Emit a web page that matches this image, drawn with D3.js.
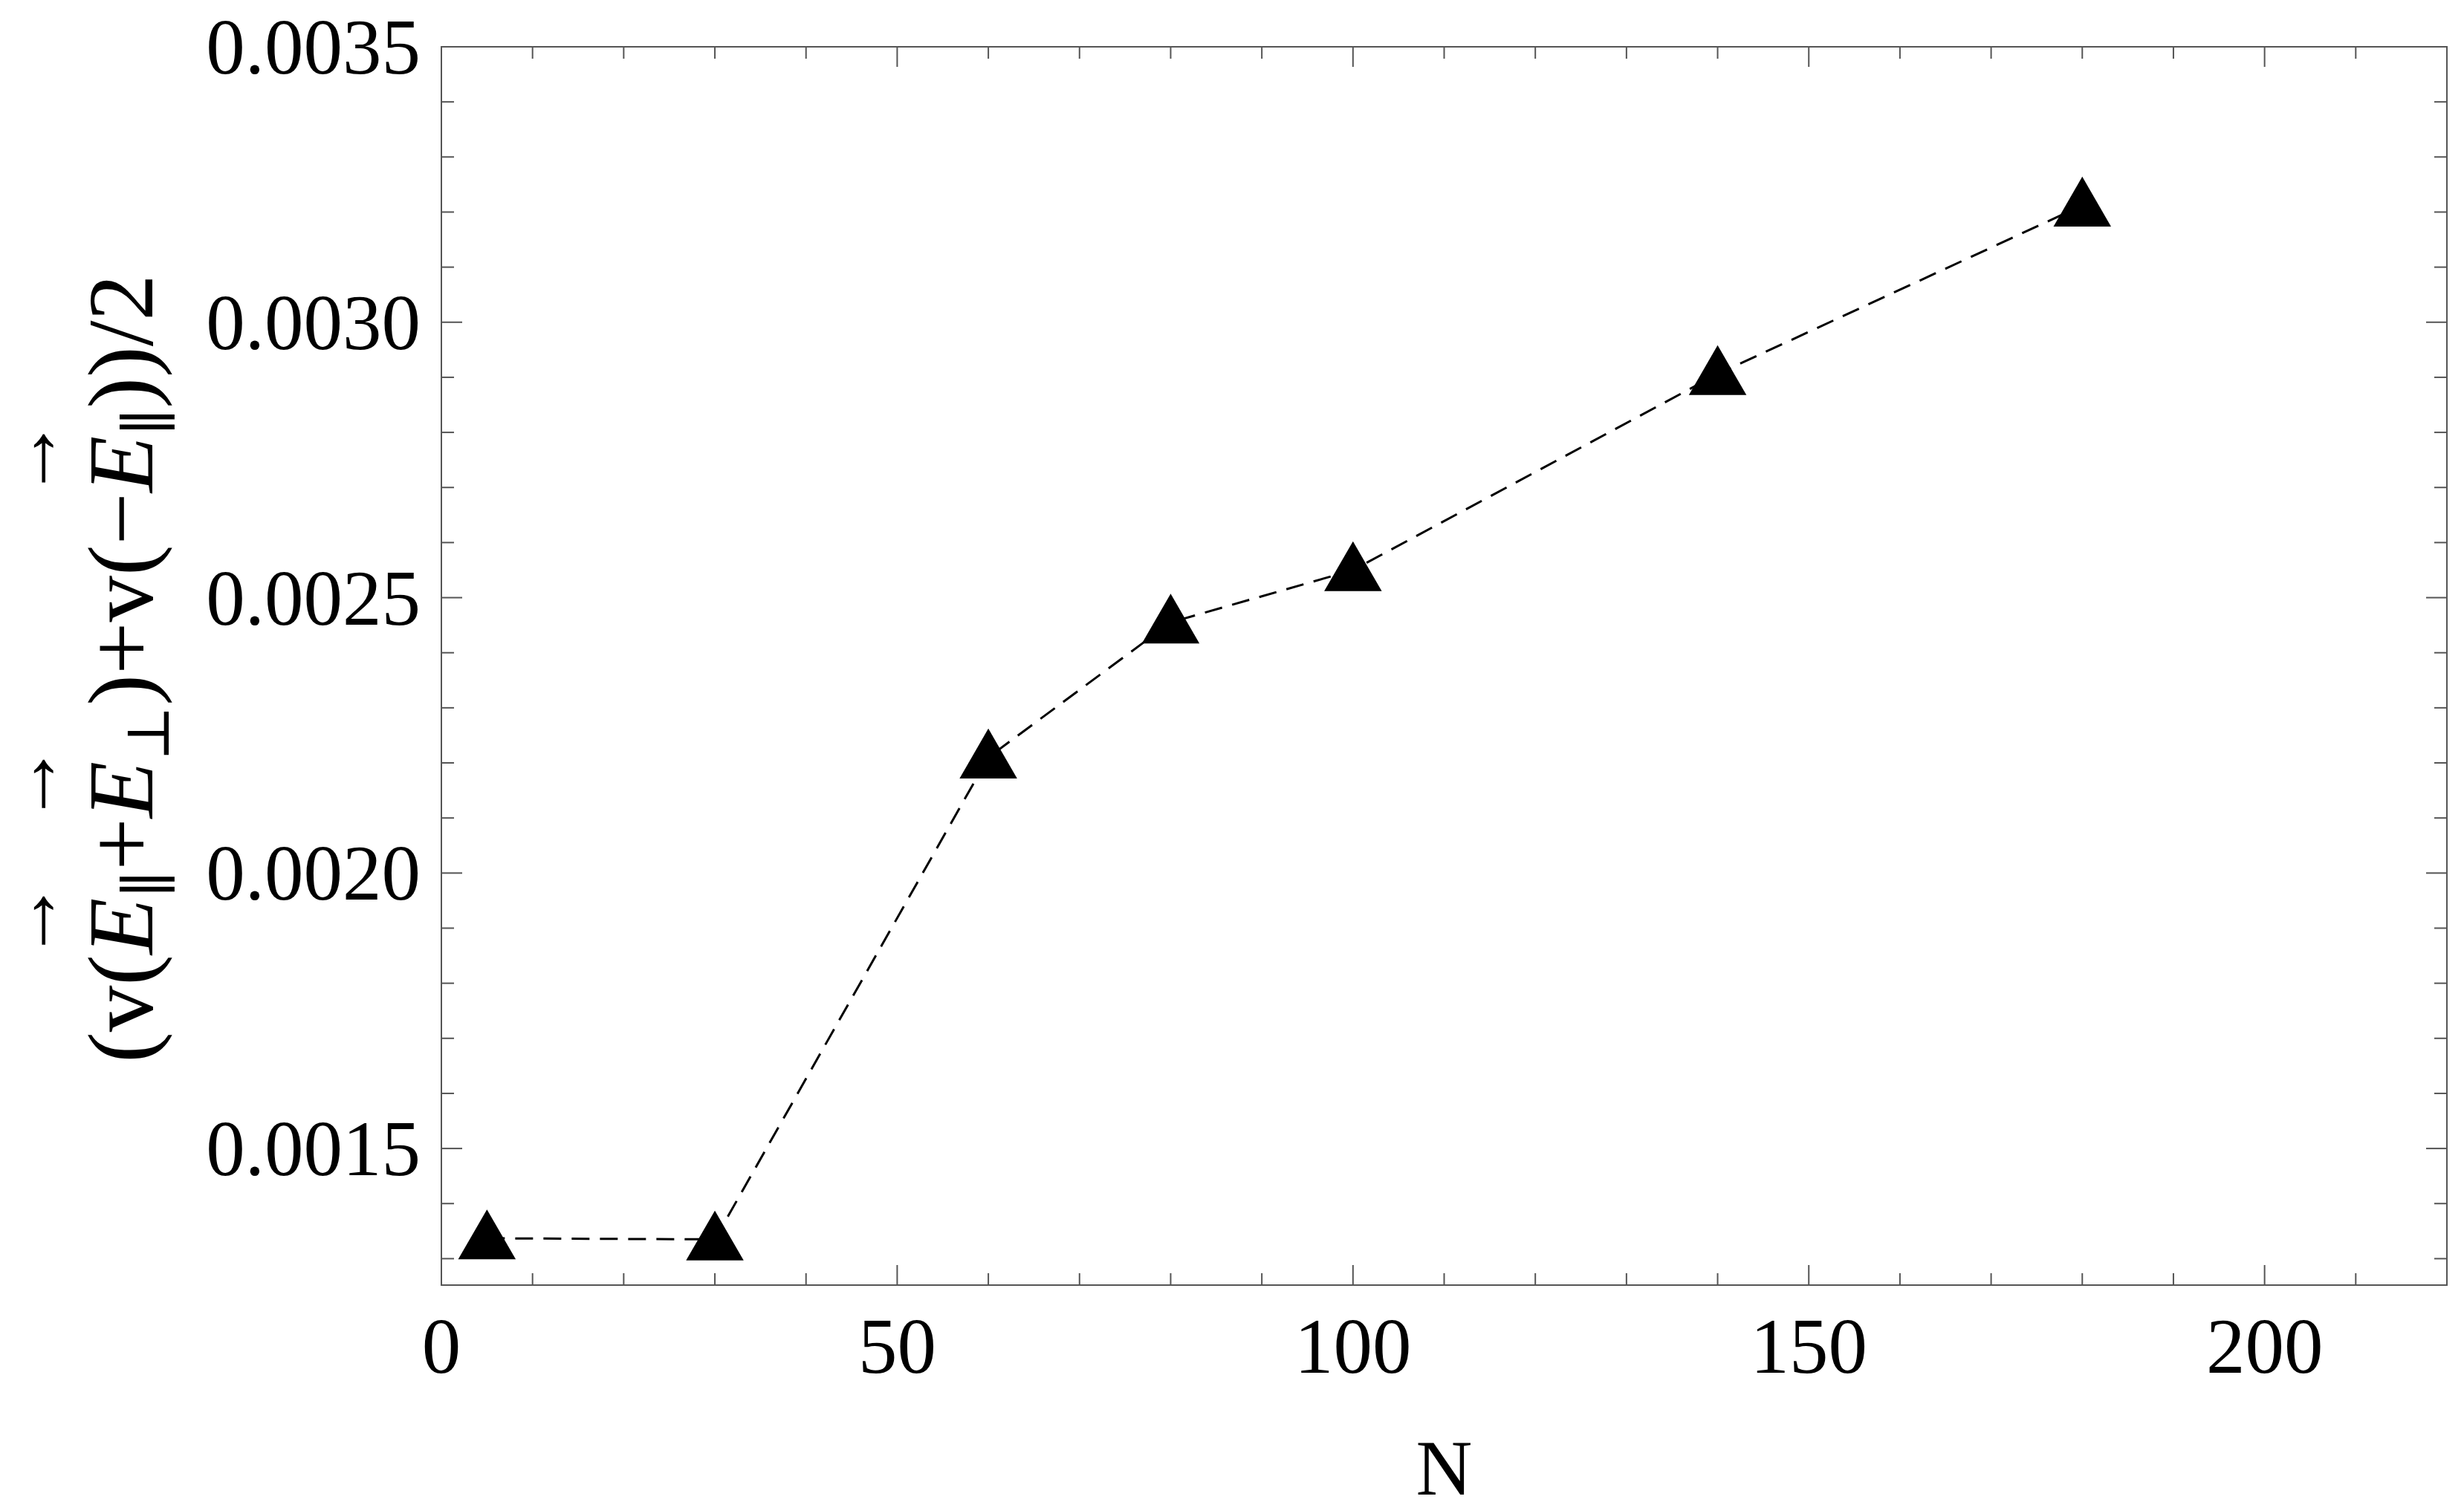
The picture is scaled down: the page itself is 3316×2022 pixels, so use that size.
<!DOCTYPE html>
<html>
<head>
<meta charset="utf-8">
<script src="https://cdn.jsdelivr.net/npm/d3@7"></script>
<style>
  body { margin: 0; background: #fff; }
  text { font-family: "Liberation Serif", "DejaVu Serif", serif; fill: #000; }
</style>
</head>
<body>
<svg id="chart" width="3316" height="2022"></svg>
<script>
// data
var nValues = [5, 30, 60, 80, 100, 140, 180];
var vValues = [0.001337, 0.001335, 0.00221, 0.002455, 0.00255, 0.002906, 0.003212];
var xTicks = [0, 50, 100, 150, 200];
var yTicks = [0.0015, 0.0020, 0.0025, 0.0030, 0.0035];

var svg = d3.select("#chart");
var pLeft = 594, pRight = 3293, pTop = 63, pBottom = 1730;

var x = d3.scaleLinear().domain([0, 220]).range([pLeft, pRight]);
var y = d3.scaleLinear().domain([0.001252, 0.0035]).range([pBottom, pTop]);

// frame
svg.append("rect")
  .attr("x", pLeft).attr("y", pTop)
  .attr("width", pRight - pLeft).attr("height", pBottom - pTop)
  .attr("fill", "none").attr("stroke", "#555").attr("stroke-width", 2);

var g = svg.append("g").attr("stroke", "#555").attr("stroke-width", 2);

// x ticks (inward, bottom and top)
d3.range(0, 221, 10).forEach(function(v) {
  var len = v % 50 == 0 ? 27 : 16;
  g.append("line").attr("x1", x(v)).attr("x2", x(v)).attr("y1", pBottom).attr("y2", pBottom - len);
  g.append("line").attr("x1", x(v)).attr("x2", x(v)).attr("y1", pTop).attr("y2", pTop + len);
});
// y ticks (inward, left and right)
d3.range(13, 36).forEach(function(k) {
  var v = k / 10000;
  var len = k % 5 == 0 ? 28 : 17;
  g.append("line").attr("y1", y(v)).attr("y2", y(v)).attr("x1", pLeft).attr("x2", pLeft + len);
  g.append("line").attr("y1", y(v)).attr("y2", y(v)).attr("x1", pRight).attr("x2", pRight - len);
});

// tick labels
svg.selectAll(".xl").data(xTicks).enter().append("text")
  .attr("x", function(d) { return x(d); })
  .attr("y", 1848)
  .attr("text-anchor", "middle")
  .attr("font-size", 105)
  .text(function(d) { return d; });

svg.selectAll(".yl").data(yTicks).enter().append("text")
  .attr("x", 566)
  .attr("y", function(d) { return y(d) + 36; })
  .attr("text-anchor", "end")
  .attr("font-size", 105)
  .text(function(d) { return d.toFixed(4); });

// axis titles
svg.append("text")
  .attr("x", (pLeft + pRight) / 2).attr("y", 2012)
  .attr("text-anchor", "middle").attr("font-size", 105)
  .text("N");

var lab = svg.append("g").attr("transform", "translate(205,900) rotate(-90)");
var t = lab.append("text").attr("text-anchor", "middle").attr("font-size", 125);
t.append("tspan").text("(v(");
t.append("tspan").attr("font-style", "italic").text("E");
t.append("tspan").attr("font-size", 80).attr("dy", 22).text("\u2225");
t.append("tspan").attr("dy", -22).text("+");
t.append("tspan").attr("font-style", "italic").text("E");
t.append("tspan").attr("font-size", 80).attr("dy", 22).text("\u22A5");
t.append("tspan").attr("dy", -22).text(")+v(\u2212");
t.append("tspan").attr("font-style", "italic").text("E");
t.append("tspan").attr("font-size", 80).attr("dy", 22).text("\u2225");
t.append("tspan").attr("dy", -22).text("))/2");

// arrows over each E
var str = t.text();
var node = t.node();
for (var i = 0; i < str.length; i++) {
  if (str[i] != "E") continue;
  var p = node.getStartPositionOfChar(i);
  var e = node.getEndPositionOfChar(i);
  lab.append("text")
    .attr("x", (p.x + e.x) / 2 + 8)
    .attr("y", -128)
    .attr("text-anchor", "middle")
    .attr("font-size", 110)
    .text("\u2192");
}

// dashed line
var line = d3.line().x(function(d, i) { return x(nValues[i]); }).y(function(d) { return y(d); });
svg.append("path")
  .attr("d", line(vValues))
  .attr("fill", "none").attr("stroke", "#000")
  .attr("stroke-width", 3).attr("stroke-dasharray", "24,14");

// triangles
var tri = d3.symbol().type(d3.symbolTriangle).size(2600);
svg.selectAll(".pt").data(vValues).enter().append("path")
  .attr("d", tri)
  .attr("transform", function(d, i) { return "translate(" + x(nValues[i]) + "," + (y(d) + 6) + ")"; })
  .attr("fill", "#000");
</script>
</body>
</html>
